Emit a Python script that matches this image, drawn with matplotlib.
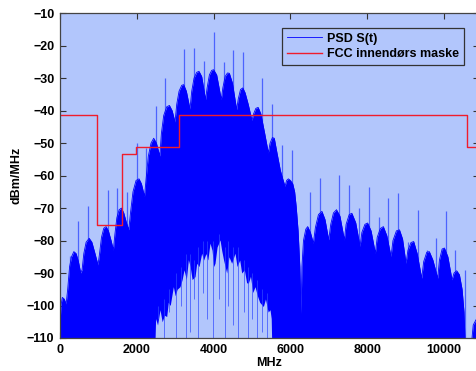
import numpy as np
import matplotlib
matplotlib.use('Agg')
import matplotlib.pyplot as plt

plt.rcParams['font.family'] = ['Liberation Sans', 'DejaVu Sans']
plt.rcParams['font.weight'] = 'bold'

# upper envelope of PSD S(t) (MHz, dBm/MHz)
psd_f = [0, 25, 60, 110, 160, 200, 250, 300, 360, 420, 480, 540, 575, 620, 680, 760,
         830, 900, 990, 1030, 1080, 1140, 1200, 1260, 1330, 1390, 1430, 1480, 1540, 1600,
         1660, 1730, 1790, 1840, 1900, 1980, 2057, 2120, 2200, 2250, 2300, 2370, 2440,
         2510, 2600, 2640, 2700, 2780, 2850, 2920, 2995, 3040, 3100, 3170, 3220, 3290,
         3385, 3430, 3490, 3560, 3620, 3690, 3790, 3830, 3890, 3950, 4000, 4080, 4200,
         4240, 4300, 4360, 4410, 4490, 4600, 4640, 4700, 4760, 4820, 4900, 5000, 5040,
         5100, 5160, 5230, 5330, 5425, 5470, 5530, 5580, 5650, 5740, 5800, 5860, 5900,
         5946, 6000, 6060, 6110, 6150, 6200, 6245, 6276, 6300, 6340, 6400, 6450, 6520,
         6597, 6650, 6730, 6820, 6900, 6997, 7050, 7120, 7200, 7290, 7405, 7450, 7530,
         7600, 7700, 7813, 7860, 7940, 8010, 8100, 8212, 8260, 8340, 8420, 8510, 8620,
         8670, 8760, 8840, 8920, 9010, 9060, 9140, 9210, 9300, 9418, 9470, 9550, 9617,
         9710, 9835, 9880, 9950, 10010, 10100, 10208, 10260, 10330, 10400, 10470, 10520,
         10547, 10720, 10760, 10850, 10900]
psd_db = [-106, -100, -97.5, -98, -99.5, -95, -88, -85, -83.4, -84, -86.5, -90, -89, -84,
          -80.5, -79.3, -80.5, -83.5, -87.5, -84, -79, -76.2, -75.7, -77, -80, -82.9, -78,
          -73, -70.5, -70, -71.5, -74.5, -76.7, -71, -65, -61.5, -61, -62.5, -66.4, -60,
          -54, -50, -48.5, -50, -54, -47, -41.5, -38.8, -38.4, -40, -43.5, -38, -34, -32.2,
          -32, -34, -39.5, -34, -30, -28.2, -27.9, -29.5, -36.6, -33, -29, -27.6, -27.4,
          -29, -36.6, -33, -29.5, -28.4, -28.5, -31.5, -39.7, -36.5, -33.5, -33, -34.5,
          -38, -43, -41, -39.3, -39, -41, -47, -53, -50, -48.3, -48.5, -53, -58.5, -61,
          -63.3, -61.5, -61, -61.5, -62.5, -65, -69.5, -77, -88, -102.5, -88, -80, -76.5,
          -75.7, -77.5, -80.8, -76, -72, -71, -73.5, -79.8, -75, -71.5, -70.5, -72.5,
          -79.8, -75, -72, -71.6, -74.5, -81.8, -77.5, -75, -74.6, -77, -83.9, -79, -76.3,
          -75.7, -78.5, -84.9, -80, -77, -76.7, -79.5, -87, -83, -80.6, -80.3, -84, -91.6,
          -86.5, -83.6, -83.4, -86, -91.6, -86, -82.6, -82.3, -85, -92.1, -90, -89.3,
          -90.5, -95, -102, -111, -111, -106, -104, -103]

# gap at the bottom of the spectrum (top edge of the empty region)
hole_f = [2474, 2490, 2540, 2604, 2660, 2720, 2778, 2820, 2870, 2951, 3000, 3050, 3125,
          3180, 3230, 3290, 3342, 3390, 3440, 3516, 3560, 3620, 3689, 3740, 3800, 3850,
          3906, 3960, 4000, 4036, 4090, 4167, 4210, 4260, 4340, 4400, 4470, 4557, 4610,
          4680, 4731, 4800, 4860, 4904, 4960, 5020, 5078, 5140, 5200, 5295, 5350, 5420,
          5469, 5500, 5512]
hole_db = [-111, -104, -106, -101.3, -105, -103, -103.4, -99, -100, -94.2, -97, -95,
           -94.2, -92, -89, -92, -85.9, -88, -92, -91.1, -87, -88, -83.9, -86, -84, -86,
           -80.8, -83, -88, -87, -82, -79.8, -83, -86, -90, -85, -87, -83.9, -88, -86,
           -90, -89, -93, -93.1, -91, -96, -94.2, -97, -99, -100.3, -98, -102, -101.3,
           -104, -111]

# thin lines inside the gap
hline_f = [2560, 2700, 2840, 3010, 3160, 3270, 3385, 3480, 3600, 3720, 3830, 3993, 4130,
           4290, 4380, 4500, 4640, 4780, 4890, 5000, 5120, 5250, 5380]
hline_db = [-100, -98, -95, -90, -88, -84, -84, -86, -82, -80, -80, -80, -78, -82, -80,
            -82, -82, -86, -88, -90, -92, -95, -96]
hline_lo = [-104, -111, -102, -111, -100, -111, -108, -98, -111, -96, -104, -111, -98,
            -111, -100, -106, -111, -102, -111, -104, -111, -108, -111]

# narrow spikes above the envelope
spike_f = [260, 477, 738, 1241, 1493, 1736, 1997, 2240, 2490, 2725, 3237, 3498, 3758,
           4010, 4271, 4514, 4757, 5269, 5512, 5773, 6033, 6519, 6780, 7275, 7535, 7778,
           8038, 8299, 8533, 8793, 9054, 9314, 9548, 9792, 10052, 10295, 10555]
spike_db = [-84.9, -74.1, -69.3, -64.5, -63.9, -64.9, -50, -51.5, -38.6, -30, -20.9,
            -20.7, -24.7, -15.8, -24.9, -21.4, -21.9, -30, -38.1, -50.5, -52, -64.9,
            -60.8, -59.8, -62.8, -70, -63.5, -72.6, -66.9, -65.4, -80.3, -70.5, -82.9,
            -79.3, -71, -82.9, -89]

# FCC indoor mask
mask_f = [0, 960, 1610, 1990, 3100, 10600, 10900]
mask_db = [-41.3, -75.3, -53.3, -51.3, -41.3, -51.3, -51.3]

bg = '#b2c6fc'
fig = plt.figure(figsize=(4.76, 3.71), dpi=100)
ax = fig.add_axes([60/476, 33/371, 418.6/476, 324.8/371])
ax.set_facecolor(bg)

# spikes sit behind the solid spectrum so only the part above it shows
ax.vlines(spike_f, -111, spike_db, color='#3a52ff', lw=0.9, alpha=0.85, zorder=1)
ax.fill_between(psd_f, psd_db, -120, color='#0000ff', lw=0, zorder=2)
ax.fill_between(hole_f, hole_db, -120, color=bg, lw=0, zorder=3)
ax.vlines(hline_f, hline_lo, hline_db, color='#3048ff', lw=0.7, alpha=0.7, zorder=4)
ax.plot(psd_f, psd_db, color='#0000ff', lw=0.6, label='PSD S(t)', zorder=2.5)
ax.step(mask_f, mask_db, where='post', color='#f01c2c', lw=1.0,
        label='FCC innendørs maske', zorder=5)

ax.set_xlim(0, 10900)
ax.set_ylim(-110, -10)
ax.set_xticks(range(0, 10001, 2000))
ax.set_yticks(range(-110, -9, 10))
ax.tick_params(direction='in', top=True, right=True, length=4, width=0.8,
               labelsize=9, pad=4, colors='#333333', labelcolor='black')
for s in ax.spines.values():
    s.set_color('#444444')
    s.set_linewidth(0.9)
    s.set_zorder(6)

ax.set_xlabel('MHz', fontsize=9, fontweight='bold', labelpad=1)
ax.set_ylabel('dBm/MHz', fontsize=9, fontweight='bold', labelpad=3)

leg = ax.legend(loc='upper right', bbox_to_anchor=(0.9644, 0.9554), borderaxespad=0,
                fancybox=False, framealpha=1, facecolor=bg, edgecolor='#333333',
                prop={'size': 9, 'weight': 'bold'}, handlelength=2.8,
                handletextpad=0.35, labelspacing=0.3, borderpad=0.4)
leg.get_frame().set_linewidth(0.9)
leg.set_zorder(7)

fig.savefig('out.png', dpi=100)
